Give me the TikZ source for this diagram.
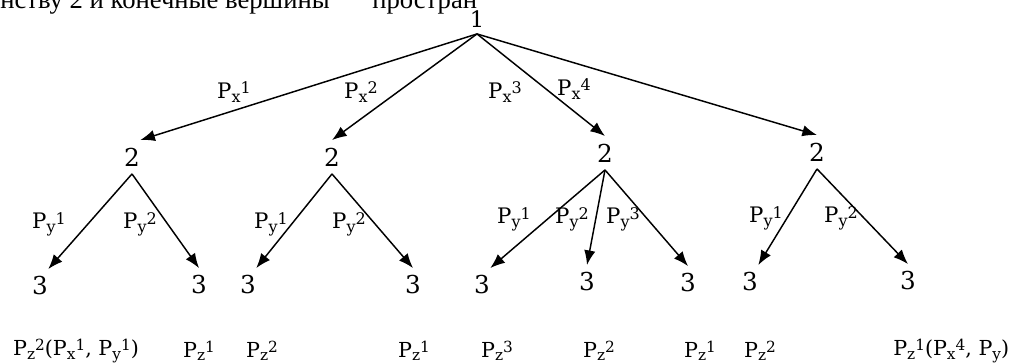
\documentclass[tikz,border=0pt]{standalone}
\usepackage{fontspec}
\setmainfont{Liberation Serif}
\newfontfamily\gfont{DejaVu Serif}
\usetikzlibrary{arrows.meta}
% P with a subscript and a superscript set one after the other
\newcommand\psub[4]{P\raisebox{-0.17em}{\fontsize{#1}{#1}\selectfont #2}\raisebox{0.22em}{\fontsize{#1}{#1}\selectfont #3}#4}
\begin{document}
\begin{tikzpicture}[x=0.75pt,y=-0.75pt,
  vtx/.style={font=\gfont\fontsize{18.5}{20}\selectfont, inner sep=0pt, minimum height=25pt, minimum width=12pt},
  rootv/.style={font=\gfont\fontsize{17}{19}\selectfont, inner sep=0pt, minimum height=22pt, minimum width=10pt},
  conn/.style={-{Latex[length=11pt,width=8.5pt]}, line width=1.1pt},
  lab/.style={font=\gfont\fontsize{16}{18}\selectfont, inner sep=0pt},
  blab/.style={font=\gfont\fontsize{15.5}{17}\selectfont, inner sep=0pt},
  toptext/.style={font=\fontsize{20}{22}\selectfont, inner sep=0pt, anchor=base west}]
\useasboundingbox (0,0) rectangle (1010,362);
\clip (0,0) rectangle (1010,362);
% clipped line of running text at the top
\node[toptext] (t1) at (0,8) {нству 2 и конечные вершины};
\node[toptext] (t2) at (372,8) {простран};
% vertices
\node[rootv] (n1) at (477,19) {1};
\node[vtx] (a) at (132,157) {2};
\node[vtx] (b) at (332,157) {2};
\node[vtx] (c) at (605,153) {2};
\node[vtx] (d) at (817,152) {2};
\node[vtx] (a1) at (40,286) {3};
\node[vtx] (a2) at (199,285) {3};
\node[vtx] (b1) at (248,285) {3};
\node[vtx] (b2) at (413,285) {3};
\node[vtx] (c1) at (482,285) {3};
\node[vtx] (c2) at (587,282) {3};
\node[vtx] (c3) at (688,283) {3};
\node[vtx] (d1) at (750,282) {3};
\node[vtx] (d2) at (908,281) {3};
% connectors
\draw[conn] (n1.south) -- (a.north east);
\draw[conn] (n1.south) -- (b.north);
\draw[conn] (n1.south) -- (c.north);
\draw[conn] (n1.south) -- (d.north);
\draw[conn] (a.south) -- (a1.north east);
\draw[conn] (a.south) -- (a2.north);
\draw[conn] (b.south) -- (b1.north east);
\draw[conn] (b.south) -- (b2.north);
\draw[conn] (c.south) -- (c1.north east);
\draw[conn] (c.south) -- (c2.north);
\draw[conn] (c.south) -- (c3.north);
\draw[conn] (d.south) -- (d1.north east);
\draw[conn] (d.south) -- (d2.north);
% edge labels
\node[lab] (px1) at (234,92) {\psub{12}{x}{1}{}};
\node[lab] (px2) at (361,92) {\psub{12}{x}{2}{}};
\node[lab] (px3) at (505,92) {\psub{12}{x}{3}{}};
\node[lab] (px4) at (574,89) {\psub{12}{x}{4}{}};
\node[lab] (pya1) at (49,224) {\psub{12}{y}{1}{}};
\node[lab] (pya2) at (140,224) {\psub{12}{y}{2}{}};
\node[lab] (pyb1) at (271,224) {\psub{12}{y}{1}{}};
\node[lab] (pyb2) at (349,224) {\psub{12}{y}{2}{}};
\node[lab] (pyc1) at (514,219) {\psub{12}{y}{1}{}};
\node[lab] (pyc2) at (572,219) {\psub{12}{y}{2}{}};
\node[lab] (pyc3) at (623,219) {\psub{12}{y}{3}{}};
\node[lab] (pyd1) at (766,218) {\psub{12}{y}{1}{}};
\node[lab] (pyd2) at (841,218) {\psub{12}{y}{2}{}};
% payoffs at the leaves
\node[blab] (z1) at (76,351) {\psub{11.5}{z}{2}{(}\psub{11.5}{x}{1}{, }\psub{11.5}{y}{1}{)}};
\node[blab] (z2) at (199,351) {\psub{11.5}{z}{1}{}};
\node[blab] (z3) at (262,351) {\psub{11.5}{z}{2}{}};
\node[blab] (z4) at (414,351) {\psub{11.5}{z}{1}{}};
\node[blab] (z5) at (497,351) {\psub{11.5}{z}{3}{}};
\node[blab] (z6) at (599,351) {\psub{11.5}{z}{2}{}};
\node[blab] (z7) at (700,351) {\psub{11.5}{z}{1}{}};
\node[blab] (z8) at (760,351) {\psub{11.5}{z}{2}{}};
\node[blab, anchor=west] (z9) at (893,351) {\psub{11.5}{z}{1}{(}\psub{11.5}{x}{4}{, }\psub{11.5}{y}{}{)}};
\end{tikzpicture}
\end{document}
